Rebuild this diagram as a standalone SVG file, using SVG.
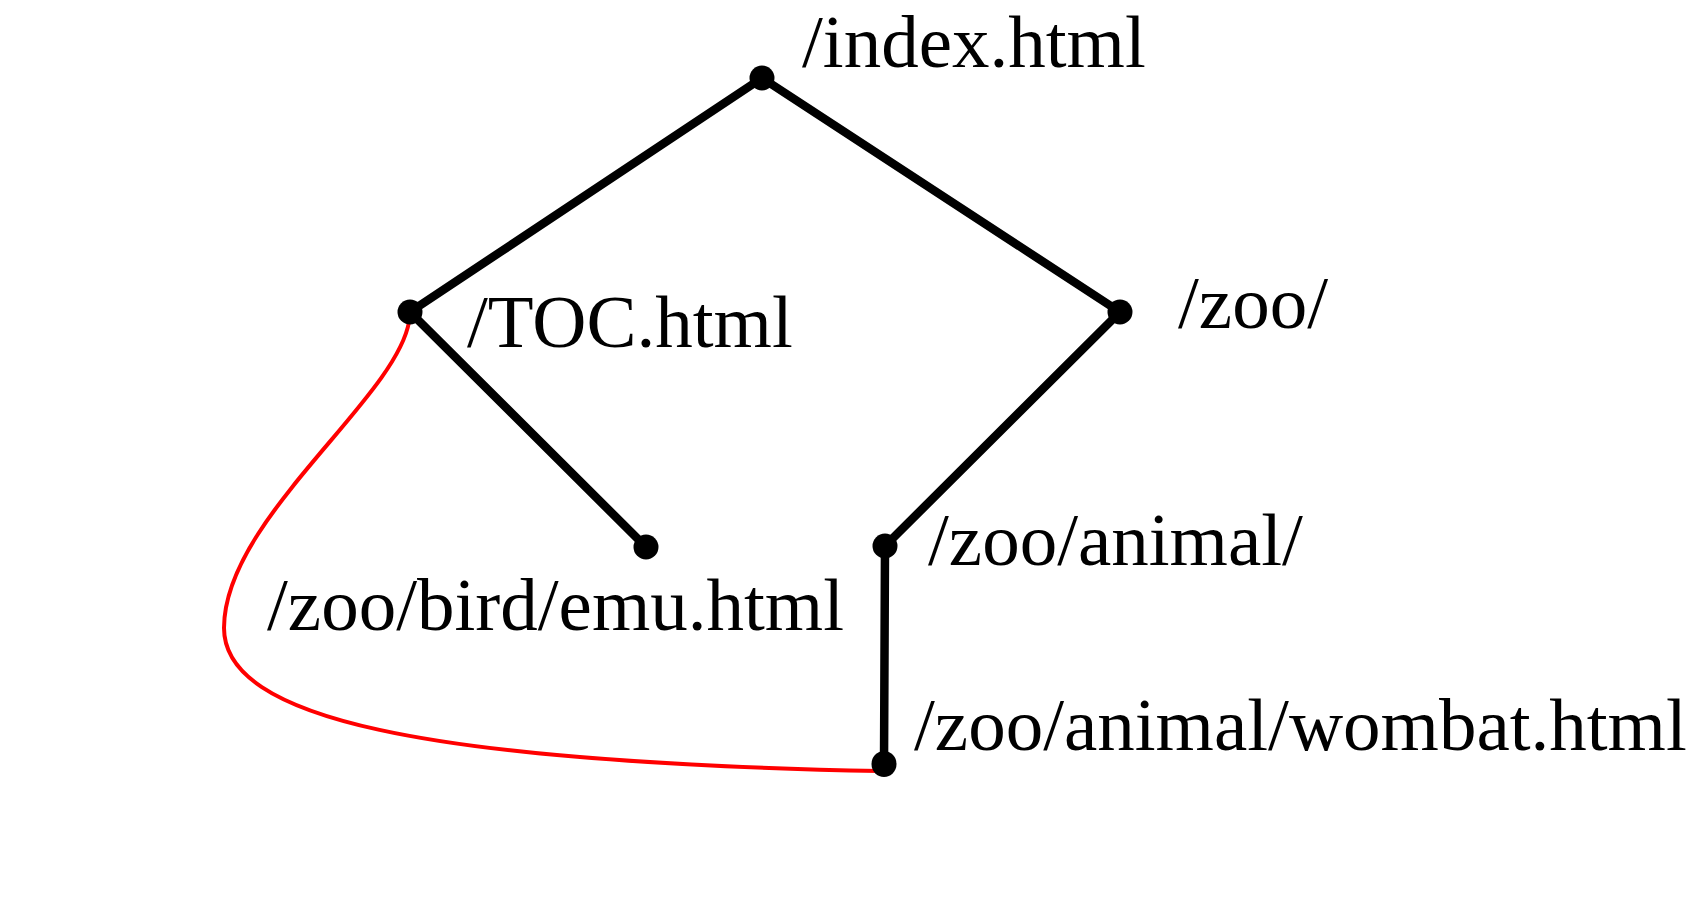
<svg xmlns="http://www.w3.org/2000/svg" width="1691" height="908" viewBox="0 0 1691 908">
<style>
.edge{stroke:#000;stroke-width:8.5;fill:none;stroke-linecap:round}
.link{stroke:#ff0000;stroke-width:4;fill:none}
.dot{fill:#000}
.lbl{font-family:"Liberation Serif","Times New Roman",serif;font-size:75px;fill:#000}
</style>
<rect width="1691" height="908" fill="#fff"/>
<g id="connectors">
<line class="edge" x1="762" y1="78" x2="410" y2="312"/>
<line class="edge" x1="762" y1="78" x2="1120" y2="312"/>
<line class="edge" x1="410" y1="312" x2="646" y2="547"/>
<line class="edge" x1="1120" y1="312" x2="885" y2="546"/>
<line class="edge" x1="885" y1="546" x2="884" y2="764"/>
<path class="link" d="M409,322 C395,400 224,520 224,628 C224,718 420,762 880,771"/>
</g>
<g id="node-index"><ellipse class="dot" cx="762" cy="78" rx="12.5" ry="12.5"/><text class="lbl" x="802" y="67">/index.html</text></g>
<g id="node-toc"><ellipse class="dot" cx="410" cy="312" rx="12.5" ry="12.5"/><text class="lbl" x="467" y="347">/TOC.html</text></g>
<g id="node-zoo"><ellipse class="dot" cx="1120" cy="312" rx="12.5" ry="12.5"/><text class="lbl" x="1178" y="328">/zoo/</text></g>
<g id="node-emu"><ellipse class="dot" cx="646" cy="547" rx="12.5" ry="12.5"/><text class="lbl" x="267" y="630">/zoo/bird/emu.html</text></g>
<g id="node-animal"><ellipse class="dot" cx="885" cy="546" rx="12.5" ry="12.5"/><text class="lbl" x="928" y="565">/zoo/animal/</text></g>
<g id="node-wombat"><ellipse class="dot" cx="884" cy="764" rx="12.5" ry="13"/><text class="lbl" x="914" y="750">/zoo/animal/wombat.html</text></g>
</svg>
